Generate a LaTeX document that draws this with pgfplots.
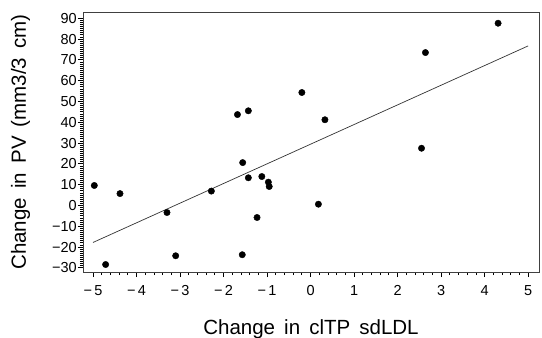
\documentclass[border=0pt]{standalone}
\usepackage{fontspec}
\setmainfont{Liberation Sans}
\newfontfamily\labelfont[WordSpace=1.6]{Liberation Sans}
\usepackage{pgfplots}
\pgfplotsset{compat=1.18}
\begin{document}
\begin{tikzpicture}
\useasboundingbox (-83pt,-66pt) rectangle (459pt,272pt);
\begin{axis}[
 scale only axis, width=456pt, height=260pt,
 xmin=-5.23, xmax=5.25, ymin=-32, ymax=93,
 xtick={-5,-4,...,5}, xticklabels={−\,5,−\,4,−\,3,−\,2,−\,1,0,1,2,3,4,5},
 ytick={-30,-20,...,90}, yticklabels={−30,−20,−10,0,10,20,30,40,50,60,70,80,90},
 minor x tick num=4, minor y tick num=9,
 tick align=outside, xtick pos=bottom, ytick pos=left,
 major tick length=5pt, minor tick length=3pt,
 tick style={black, line width=0.8pt},
 axis line style={line width=0.9pt, black!75},
 ticklabel style={font=\fontsize{14.5}{14.5}\selectfont},
 xticklabel style={inner sep=1pt, yshift=-7pt},
 yticklabel style={inner sep=1pt},
 xlabel={Change in clTP sdLDL}, ylabel={Change in PV (mm3/3 cm)},
 label style={font=\labelfont\fontsize{20.5}{20.5}\selectfont},
 xlabel style={at={(axis description cs:0.5,0)}, anchor=base, yshift=-62pt},
 ylabel style={at={(axis description cs:-0.125,0.5)}, anchor=base, rotate=0},
]
\addplot[only marks, mark=*, mark size=3.2pt, black] coordinates {
(-4.97, 9.6) (-4.71, -28.4) (-4.38, 5.7) (-3.30, -3.4) (-3.10, -24.2)
(-2.28, 6.9) (-1.56, 20.6) (-1.57, -23.7) (-1.43, 13.3) (-1.12, 13.9)
(-1.23, -5.8) (-0.97, 11.2) (-0.95, 9.1) (0.18, 0.6) (-1.68, 43.7)
(-1.43, 45.5) (-0.20, 54.3) (0.33, 41.2) (2.64, 73.5) (2.55, 27.5) (4.31, 87.6)
};
\addplot[black!80, line width=0.7pt] coordinates {(-5,-17.8) (5,76.7)};
\end{axis}
\end{tikzpicture}
\end{document}
